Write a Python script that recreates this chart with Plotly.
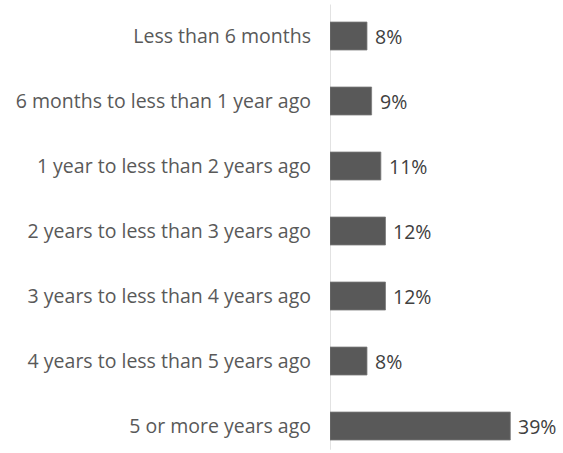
import plotly.graph_objects as go

categories = [
    "Less than 6 months",
    "6 months to less than 1 year ago",
    "1 year to less than 2 years ago",
    "2 years to less than 3 years ago",
    "3 years to less than 4 years ago",
    "4 years to less than 5 years ago",
    "5 or more years ago",
]
values = [8, 9, 11, 12, 12, 8, 39]
value_labels = ["8%", "9%", "11%", "12%", "12%", "8%", "39%"]

FONT = "Open Sans"
FONT_SIZE = 19.5

fig = go.Figure(
    go.Bar(
        x=values,
        y=categories,
        orientation="h",
        width=0.43,
        marker=dict(color="#595959", line=dict(color="#7a7a7a", width=0.8)),
        hoverinfo="skip",
    )
)

# value labels just past the end of each bar
for cat, v, lab in zip(categories, values, value_labels):
    fig.add_annotation(
        x=v, y=cat, text=lab, showarrow=False,
        xanchor="left", yanchor="middle", xshift=6,
        font=dict(family=FONT, size=FONT_SIZE, color="#404040"),
    )

fig.update_layout(
    width=563, height=453,
    margin=dict(l=330, r=0, t=0, b=0),
    paper_bgcolor="white", plot_bgcolor="white",
    showlegend=False,
    xaxis=dict(range=[0, 50.4], visible=False, fixedrange=True),
    yaxis=dict(
        type="category",
        categoryorder="array", categoryarray=categories,
        range=[6.415, -0.554],
        showgrid=False, zeroline=False,
        showline=False, ticks="",
        ticklabelstandoff=18,
        tickfont=dict(family=FONT, size=FONT_SIZE, color="#595959"),
        fixedrange=True,
    ),
    shapes=[dict(
        type="line", xref="x", yref="paper",
        x0=0, x1=0, y0=0.007, y1=0.99,
        line=dict(color="#d9d9d9", width=1.5),
        layer="below",
    )],
)

fig.write_html("out.html")
